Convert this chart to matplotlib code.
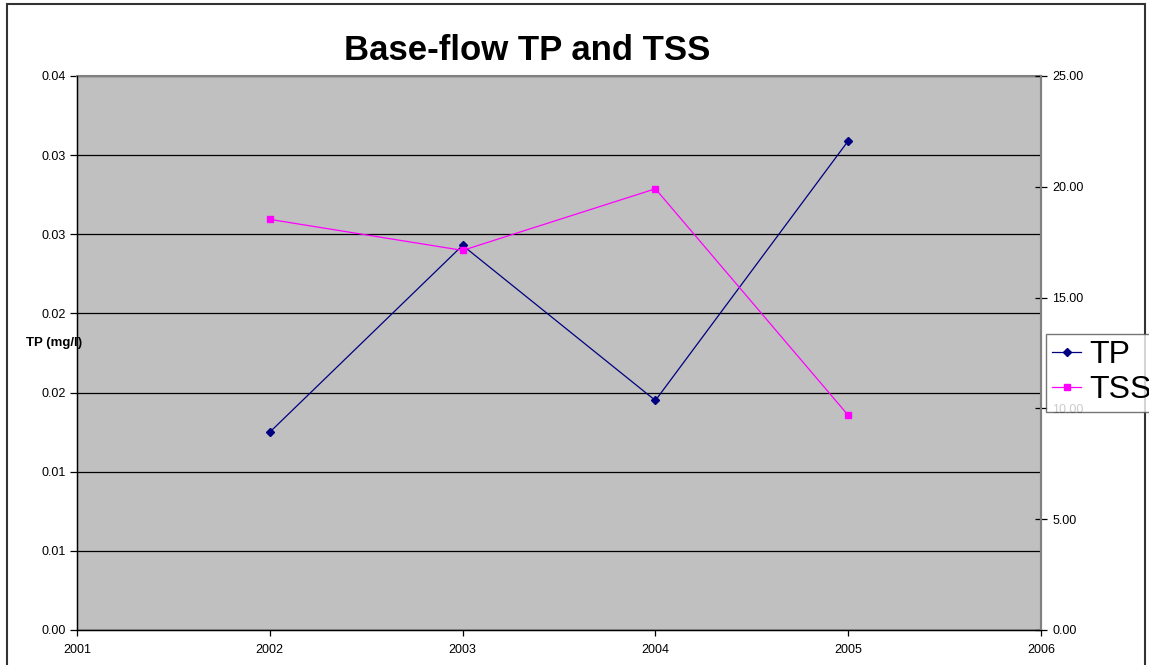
import matplotlib.pyplot as plt
from matplotlib.patches import Rectangle
from matplotlib.lines import Line2D

plt.rcParams['font.family'] = ['Liberation Sans', 'DejaVu Sans']

years = [2002, 2003, 2004, 2005]
tp = [0.0125, 0.0243, 0.0145, 0.0309]
tss = [18.53, 17.13, 19.91, 9.69]

x_ticks = [2001, 2002, 2003, 2004, 2005, 2006]
tp_ticks = [0.0, 0.005, 0.01, 0.015, 0.02, 0.025, 0.03, 0.035]
tp_tick_labels = ["0.00", "0.01", "0.01", "0.02", "0.02", "0.03", "0.03", "0.04"]
tss_ticks = [0, 5, 10, 15, 20, 25]
tss_tick_labels = ["0.00", "5.00", "10.00", "15.00", "20.00", "25.00"]

W, H = 1149, 665
fig = plt.figure(figsize=(W / 100, H / 100), dpi=100)

# outer chart frame
fig.patches.append(Rectangle((7 / W, -0.05), (1145 - 7) / W, 1.05 - 3.5 / H,
                             transform=fig.transFigure, fill=False,
                             edgecolor='#333333', linewidth=1.5))

ax = fig.add_axes([77 / W, 35 / H, (1041 - 77) / W, (630 - 76) / H])
ax.set_facecolor('#C0C0C0')
ax.set_xlim(2001, 2006)
ax.set_ylim(0, 0.035)
ax.set_yticks(tp_ticks)
ax.set_yticklabels(tp_tick_labels)
ax.set_xticks(x_ticks)
ax.set_xticklabels([str(y) for y in x_ticks])
ax.grid(axis='y', color='black', linewidth=0.9)
ax.set_axisbelow(True)
ax.tick_params(axis='y', direction='out', length=5, width=0.9, labelsize=9, pad=3)
ax.tick_params(axis='x', direction='out', length=4, width=0.9, labelsize=9, pad=6)
for side in ['left', 'bottom']:
    ax.spines[side].set_color('black')
    ax.spines[side].set_linewidth(1)
for side in ['top', 'right']:
    ax.spines[side].set_color('#808080')
    ax.spines[side].set_linewidth(1.5)

ax2 = ax.twinx()
ax2.set_ylim(0, 25)
ax2.set_yticks(tss_ticks)
ax2.set_yticklabels(tss_tick_labels)
ax2.tick_params(axis='y', direction='inout', length=8, width=0.9, labelsize=9, pad=4)
ax2.spines['right'].set_color('#808080')
ax2.spines['right'].set_linewidth(1.5)
ax2.spines['top'].set_visible(False)

ax.plot(years, tp, color='#000080', linewidth=0.9, marker='D', markersize=4.5,
        zorder=5, clip_on=False)
ax2.plot(years, tss, color='#FF00FF', linewidth=0.9, marker='s', markersize=5,
         zorder=5, clip_on=False)

fig.text(527 / W, 1 - 51 / H, 'Base-flow TP and TSS', ha='center', va='center',
         fontsize=25, fontweight='bold')
fig.text(26 / W, 1 - 343 / H, 'TP (mg/l)', ha='left', va='center',
         fontsize=9.5, fontweight='bold')

handles = [Line2D([], [], color='#000080', linewidth=0.9, marker='D', markersize=4.5),
           Line2D([], [], color='#FF00FF', linewidth=0.9, marker='s', markersize=5)]
leg = fig.legend(handles, ['TP', 'TSS'], loc='upper left',
                 bbox_to_anchor=(1046 / W, 1 - 334 / H), fontsize=23,
                 frameon=True, fancybox=False, borderpad=0.2, labelspacing=0.15,
                 handlelength=0.9, handletextpad=0.25, borderaxespad=0)
leg.get_frame().set_edgecolor('#555555')
leg.get_frame().set_linewidth(1)

fig.savefig('out.png', dpi=100)
